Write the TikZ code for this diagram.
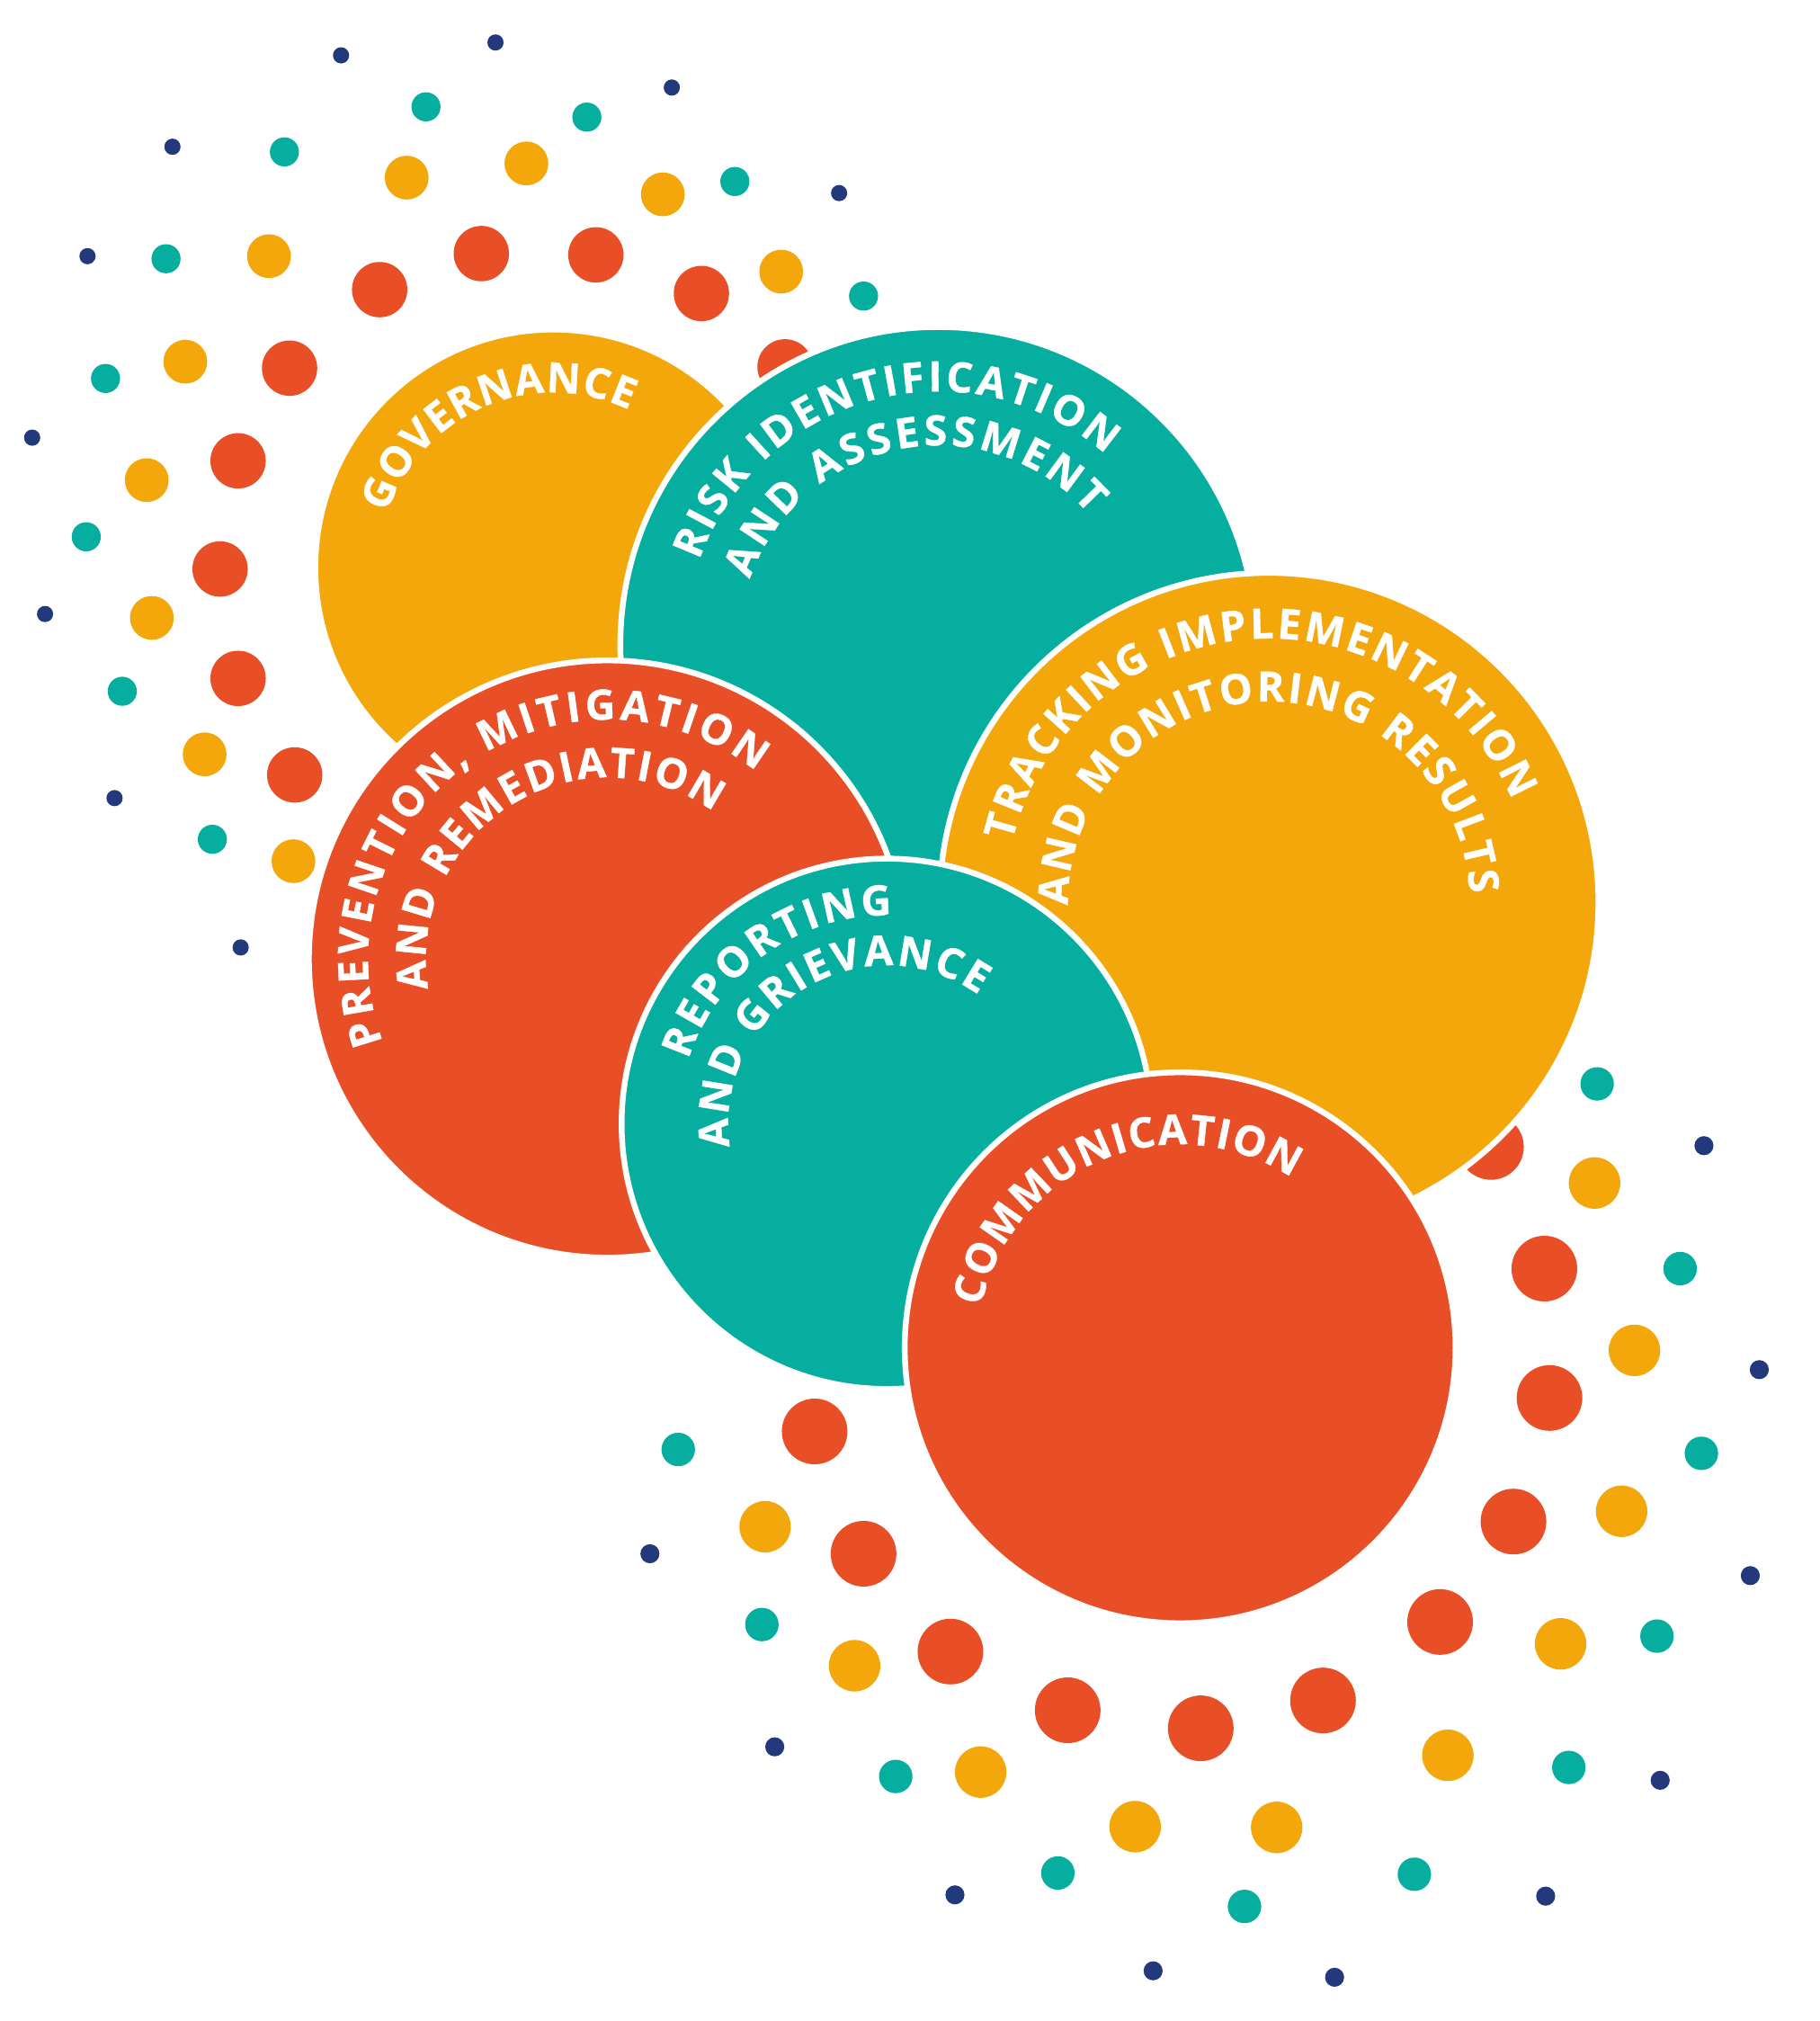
\documentclass[tikz,border=0pt]{standalone}
\usepackage{fontspec}
\newfontfamily\lblfont{Open Sans}[FakeBold=0.8]
\usetikzlibrary{decorations.text}
\definecolor{cOrange}{HTML}{F4A70A}
\definecolor{cTeal}{HTML}{06AEA0}
\definecolor{cRed}{HTML}{E84F27}
\definecolor{cNavy}{HTML}{22397B}
\newcommand\lblstyle{\lblfont\bfseries\fontsize{32.5}{36}\selectfont\color{white}}
% #1 cx, #2 cy (downward), #3 baseline radius, #4 start angle, #5 end angle, #6 text
\newcommand\arclabel[6]{%
  \path[decorate,decoration={text along path,text={|\lblstyle|#6},text align={fit to path}}]
    (#1,-#2) ++(#4:#3) arc[start angle=#4,end angle=#5,radius=#3];}
\begin{document}
\begin{tikzpicture}[x=1pt,y=1pt,
  navydot/.style={fill=cNavy},
  tealdot/.style={fill=cTeal},
  orangedot/.style={fill=cOrange},
  reddot/.style={fill=cRed},
  bigdisc/.style={draw=white,line width=4.5pt}]
\useasboundingbox (0,0) rectangle (1414,-1570);
\fill[white] (0,0) rectangle (1414,-1570);

% ---------- top-left dot cluster ----------
\foreach \x/\y in {265/43,385/33,522/68,134/114,652/150,68/199,25/340,35/477,89/620,187/736}
  \fill[navydot] (\x,-\y) circle[radius=6.3];
\foreach \x/\y in {331/83,456/91,221/118,571/141,129/201,671/230,82/294,67/417,95/537,165/652}
  \fill[tealdot] (\x,-\y) circle[radius=11.3];
\foreach \x/\y in {316/138,409/127,515/151,209/199,607/211,144/281,114/373,118/480,159/586,228/669}
  \fill[orangedot] (\x,-\y) circle[radius=17];
\foreach \x/\y in {295/225,374/197,463/198,545/228,225/286,610/285,185/358,171/442,185/527,229/602}
  \fill[reddot] (\x,-\y) circle[radius=21.5];

% ---------- bottom-right dot cluster ----------
\foreach \x/\y in {505/1207,602/1357,1324/890,1367/1064,1360/1224,1290/1383,742/1472,1201/1473,896/1531,1037/1536}
  \fill[navydot] (\x,-\y) circle[radius=7.4];
\foreach \x/\y in {527/1126,592/1262,696/1380,1241/842,1305.5/985.5,1322/1129,1287.5/1271,1219/1373,822/1455,967/1481,1099/1456}
  \fill[tealdot] (\x,-\y) circle[radius=13];
\foreach \x/\y in {594.5/1186,664/1294,1239/919,1270/1049,1260/1174,1212.6/1277,1125/1363.6,762/1376.6,882/1419,992/1419.6}
  \fill[orangedot] (\x,-\y) circle[radius=20];
\foreach \x/\y in {633/1112,671/1207,1158.5/891,1200/985.5,1204/1086,1176/1182,1119/1260,738.5/1283,829.6/1328.6,933/1342.6,1028/1321}
  \fill[reddot] (\x,-\y) circle[radius=25.5];

% ---------- main circles ----------
% Governance
\filldraw[bigdisc,fill=cOrange] (430,-441) circle[radius=185];
\arclabel{430}{441}{136}{161.7}{64.3}{GOVERNANCE}
% Risk identification and assessment
\filldraw[bigdisc,fill=cTeal] (729,-501) circle[radius=247];
\arclabel{729}{501}{197}{160.5}{48.7}{RISK IDENTIFICATION}
\arclabel{729}{501}{155}{160.7}{40.8}{AND ASSESSMENT}
% Tracking implementation and monitoring results
\filldraw[bigdisc,fill=cOrange] (986,-701) circle[radius=256];
\arclabel{986}{701}{205}{166.7}{22.8}{TRACKING IMPLEMENTATION}
\arclabel{986}{701}{156}{180.8}{2.5}{AND MONITORING RESULTS}
% Prevention, mitigation and remediation
\filldraw[bigdisc,fill=cRed] (472,-745) circle[radius=232];
\arclabel{472}{745}{186}{200.3}{51.6}{PREVENTION, MITIGATION}
\arclabel{472}{745}{141}{189.4}{54.2}{AND REMEDIATION}
% Reporting and grievance
\filldraw[bigdisc,fill=cTeal] (689,-873) circle[radius=206];
\arclabel{689}{873}{162}{162.1}{88.6}{REPORTING}
\arclabel{689}{873}{123}{188.3}{54.4}{AND GRIEVANCE}
% Communication
\filldraw[bigdisc,fill=cRed] (917,-1047) circle[radius=214];
\arclabel{917}{1047}{158}{168.3}{56.7}{COMMUNICATION}
\end{tikzpicture}
\end{document}
